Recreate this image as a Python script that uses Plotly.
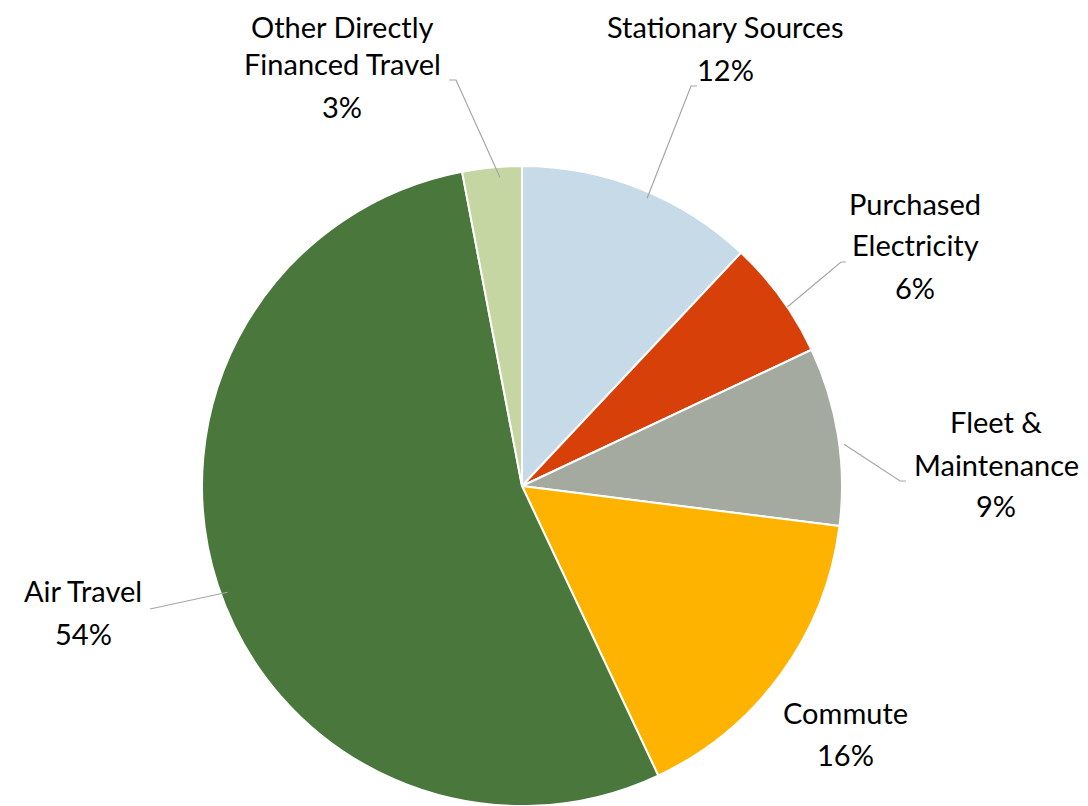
import math
import plotly.graph_objects as go

categories = ["Stationary Sources", "Purchased Electricity", "Fleet & Maintenance",
              "Commute", "Air Travel", "Other Directly Financed Travel"]
values = [12, 6, 9, 16, 54, 3]
label_lines = [["Stationary Sources"], ["Purchased", "Electricity"], ["Fleet &", "Maintenance"],
               ["Commute"], ["Air Travel"], ["Other Directly", "Financed Travel"]]
colors = ["#C7DAE7", "#D84009", "#A5AAA0", "#FEB300", "#4A773C", "#C5D6A3"]

W, H = 1088, 806
CX, CY, R = 522, 486, 320
DX, DY = -8, -8  # correction for plotly's pie placement

# label layout: x centre and y of each text line (pixels), leader-line elbows
label_x = [717, 907, 988, 837, 75, 334]
label_y = [[19, 62], [195, 237, 279], [414, 456, 498], [704, 746], [582, 625], [19, 56, 98]]
elbows = [[(683, 78), (689, 78)], [(833, 254), (838, 254)], [(892, 473), (898, 473)],
          None, [(142, 601)], [(448, 72), (441, 72)]]

def px(x, y):
    return x / W, 1 - y / H

fig = go.Figure(go.Pie(
    labels=categories, values=values, sort=False, direction="clockwise", rotation=0,
    marker=dict(colors=colors, line=dict(color="white", width=2)),
    textinfo="none", hoverinfo="label+percent", showlegend=False,
    domain=dict(x=[(CX + DX - R) / W, (CX + DX + R) / W],
                y=[(H - CY - DY - R) / H, (H - CY - DY + R) / H]),
))

total = sum(values)
annotations = []
shapes = []
cum = 0
for i, v in enumerate(values):
    pct = round(100 * v / total)
    lines = label_lines[i] + [f"{pct}%"]
    for t, ly in zip(lines, label_y[i]):
        x, y = px(label_x[i], ly)
        annotations.append(dict(x=x, y=y, xref="paper", yref="paper", text=t, showarrow=False,
                                xanchor="center", yanchor="middle", borderpad=0,
                                font=dict(family="Lato", size=29, color="#000000")))
    mid = (cum + v / 2) / total * 2 * math.pi
    cum += v
    if elbows[i]:
        sx = CX + (R - 2) * math.sin(mid)
        sy = CY - (R - 2) * math.cos(mid)
        pts = [(sx, sy)] + elbows[i]
        path = "M " + " L ".join(f"{px(a, b)[0]},{px(a, b)[1]}" for a, b in pts)
        shapes.append(dict(type="path", path=path, xref="paper", yref="paper",
                           line=dict(color="#A6A6A6", width=1.2)))

fig.update_layout(width=W, height=H, margin=dict(l=0, r=0, t=0, b=0),
                  paper_bgcolor="white", plot_bgcolor="white",
                  annotations=annotations, shapes=shapes)
fig.write_html("out.html")
